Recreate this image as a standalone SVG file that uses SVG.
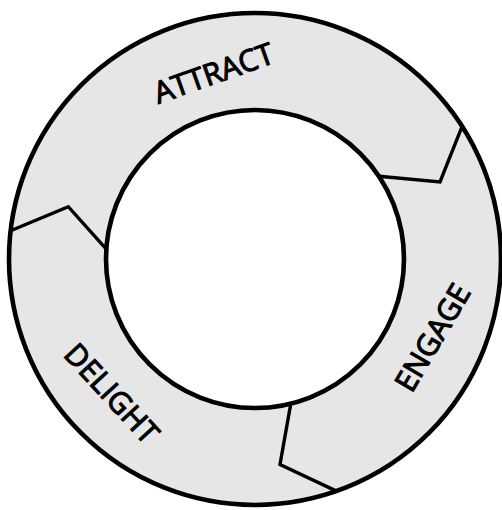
<svg xmlns="http://www.w3.org/2000/svg" width="502" height="510" viewBox="0 0 502 510">
  <style>
    .seg { fill: #e6e6e6; stroke: none; }
    .divider { fill: none; stroke: #000; stroke-width: 3.4; stroke-linejoin: miter; }
    .ring { fill: none; stroke: #000; stroke-width: 4.6; }
    .label { font-family: "Open Sans", "Liberation Sans", sans-serif; font-weight: normal; font-size: 30px; fill: #000; stroke: #000; stroke-width: 1.1; text-anchor: middle; }
  </style>
  <rect width="502" height="510" fill="#fff"/>
  <g id="attract">
    <path class="seg" d="M10.6,230.7 A246,246 0 0 1 462.1,126.3 L440,182 L379,176.3 A149,149 0 0 0 106.3,249.1 L68.3,206.7 Z"/>
    <text class="label" transform="translate(213.5,73) rotate(-19.5)" y="10.7">ATTRACT</text>
  </g>
  <g id="engage">
    <path class="seg" d="M462.1,126.3 A246,246 0 0 1 336.5,491.1 L280,464.5 L290.8,403.6 A149,149 0 0 0 379,176.3 L440,182 Z"/>
    <text class="label" transform="translate(432.5,337.5) rotate(-59.5)" y="10.7">ENGAGE</text>
  </g>
  <g id="delight">
    <path class="seg" d="M336.5,491.1 A246,246 0 0 1 10.6,230.7 L68.3,206.7 L106.3,249.1 A149,149 0 0 0 290.8,403.6 L280,464.5 Z"/>
    <text class="label" transform="translate(111.7,393.3) rotate(47.5)" y="10.7">DELIGHT</text>
  </g>
  <g id="connectors">
    <polyline class="divider" points="462.1,126.3 440,182 379,176.3"/>
    <polyline class="divider" points="10.6,230.7 68.3,206.7 106.3,249.1"/>
    <polyline class="divider" points="336.5,491.1 280,464.5 290.8,403.6"/>
    <circle class="ring" cx="255" cy="259" r="246"/>
    <circle class="ring" cx="255" cy="259" r="149"/>
  </g>
</svg>
